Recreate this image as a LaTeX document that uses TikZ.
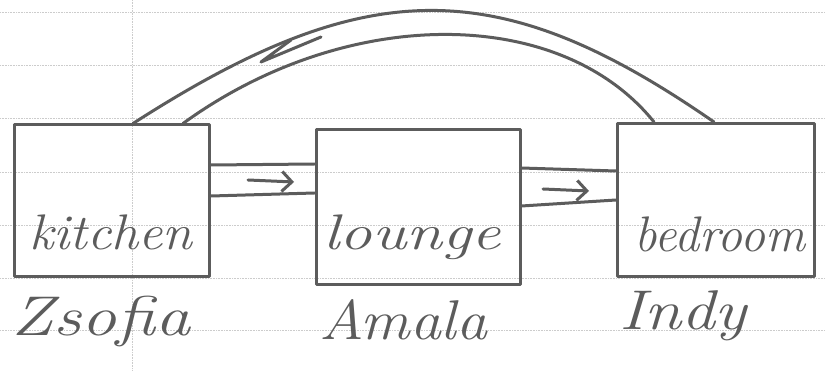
\documentclass[tikz,border=0pt]{standalone}
\usetikzlibrary{arrows.meta}
\definecolor{pencil}{gray}{0.36}
\definecolor{ruling}{gray}{0.80}
\begin{document}
\begin{tikzpicture}[x=1pt,y=-1pt,
  stroke/.style={draw=pencil, line width=3pt, line cap=round, line join=round},
  room/.style={stroke, inner sep=0pt},
  hand/.style={text=pencil, inner sep=0pt, font=\fontsize{50}{56}\selectfont\itshape},
  person/.style={text=pencil, inner sep=0pt, font=\fontsize{56}{62}\selectfont\itshape},
  ruled/.style={draw=ruling, line width=0.6pt, densely dotted},
  flow/.style={stroke, -{Straight Barb[length=10pt,width=20pt]}}]

% page and ruling of the notebook
\fill[white] (0,0) rectangle (825,371);
\useasboundingbox (0,0) rectangle (825,371);
\foreach \yy in {12,65,118,172,225,278,330}
  \draw[ruled] (0,\yy) -- (825,\yy);
\draw[ruled] (132,0) -- (132,371);

% rooms
\node[room, minimum width=195pt, minimum height=152pt] (kitchen) at (112,201) {};
\node[room, minimum width=204pt, minimum height=155pt] (lounge)  at (418,207) {};
\node[room, minimum width=197pt, minimum height=153pt] (bedroom) at (716,200) {};

\node[hand, xscale=1.08] (kitchentext) at (111,232) {kitchen};
\node[hand, xscale=1.3]  (loungetext)  at (412,237) {lounge};
\node[hand]              (bedroomtext) at (720,234) {bedroom};

% people
\node[person, xscale=1.25] (zsofia) at (101,322) {Zsofia};
\node[person, xscale=1.1]  (amala)  at (403,320) {Amala};
\node[person, xscale=1.2]  (indy)   at (683,316) {Indy};

% kitchen -> lounge passage
\draw[stroke] (kitchen.east |- 0,165) -- (lounge.west |- 0,164);
\draw[stroke] (kitchen.east |- 0,196) -- (lounge.west |- 0,193);
\coordinate (kl1) at (248,180);
\coordinate (kl2) at (294,182);
\draw[flow] (kl1) -- (kl2);

% lounge -> bedroom passage
\draw[stroke] (lounge.east |- 0,168) -- (bedroom.west |- 0,171);
\draw[stroke] (lounge.east |- 0,206) -- (bedroom.west |- 0,200);
\coordinate (lb1) at (543,189);
\coordinate (lb2) at (589,191);
\draw[flow] (lb1) -- (lb2);

% bedroom -> kitchen passage over the top
\draw[stroke] ([xshift=21pt]kitchen.north) .. controls (367,-27) and (499,-27) .. ([xshift=-2pt]bedroom.north);
\draw[stroke] ([xshift=71pt]kitchen.north) .. controls (346,5) and (560,5) .. ([xshift=-62pt]bedroom.north);
\coordinate (bk0) at (261,62);
\coordinate (bk1) at (291,40);
\coordinate (bk2) at (321,37);
\draw[stroke] (bk1) -- (bk0) -- (bk2);
\end{tikzpicture}
\end{document}
